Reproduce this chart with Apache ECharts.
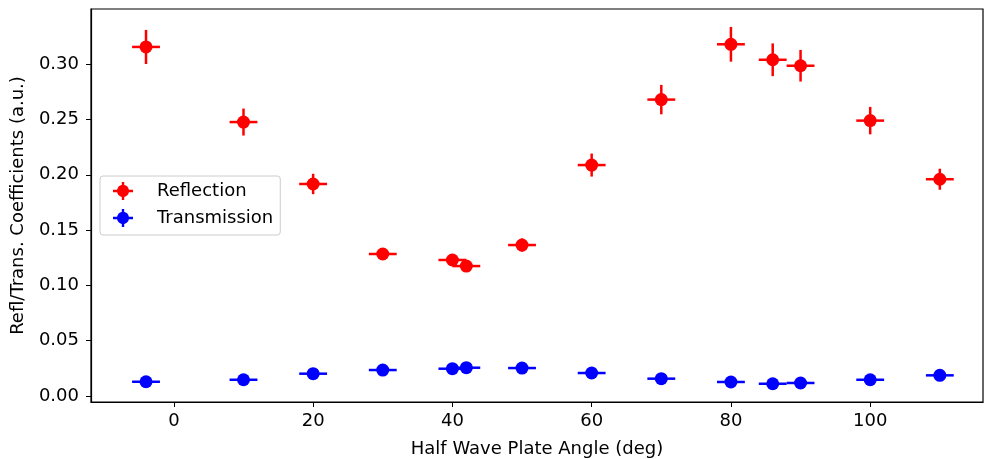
<!DOCTYPE html>
<html>
<head>
    <meta charset="utf-8"/>
    <style>
        html, body {
            padding: 0;
            margin: 0;
            background: #fff;
        }

        #main {
            width: 984px;
            height: 459px;
        }
    </style>
    <script src="https://cdn.jsdelivr.net/npm/echarts@6/dist/echarts.min.js"></script>
</head>
<body>
<div id="main"></div>
<script>
    // half wave plate angle (deg), every point has +/-2 deg
    var angles = [-4, 10, 20, 30, 40, 42, 50, 60, 70, 80, 86, 90, 100, 110];
    var angleErr = 2;
    var reflection = [0.3156, 0.2477, 0.1917, 0.1284, 0.1230, 0.1175, 0.1365, 0.2088, 0.2680, 0.3180, 0.3040, 0.2986, 0.2490, 0.1960];
    var reflectionErr = [0.0154, 0.0122, 0.0092, 0.0050, 0.0050, 0.0040, 0.0060, 0.0104, 0.0133, 0.0157, 0.0148, 0.0143, 0.0124, 0.0095];
    var transmission = [0.0129, 0.0147, 0.0202, 0.0235, 0.0247, 0.0256, 0.0253, 0.0208, 0.0157, 0.0127, 0.0111, 0.0118, 0.0147, 0.0187];
    var transmissionErr = [0.0010, 0.0010, 0.0010, 0.0010, 0.0010, 0.0010, 0.0010, 0.0010, 0.0010, 0.0010, 0.0010, 0.0010, 0.0010, 0.0010];
    var xTicks = [0, 20, 40, 60, 80, 100];
    var yTicks = [0, 0.05, 0.10, 0.15, 0.20, 0.25, 0.30];

    var FONT = 'DejaVu Sans';
    // outline of a circle with error bar arms (no overlapping sub paths)
    var markerIcon = 'path://M0,7.8L4.121,7.8A6,6 0 0,1 8.8,3.121L8.8,0L11.2,0L11.2,3.121A6,6 0 0,1 15.879,7.8' +
        'L20,7.8L20,10.2L15.879,10.2A6,6 0 0,1 11.2,14.879L11.2,18L8.8,18L8.8,14.879A6,6 0 0,1 4.121,10.2L0,10.2Z';

    function buildData(ys, errs) {
        var out = [];
        for (var i = 0; i < angles.length; i++) {
            out.push([angles[i], ys[i], angleErr, errs[i]]);
        }
        return out;
    }

    function errorBarItem(color) {
        return function (params, api) {
            var x = api.value(0), y = api.value(1);
            var dx = api.value(2), dy = api.value(3);
            var c = api.coord([x, y]);
            var l = api.coord([x - dx, y]);
            var r = api.coord([x + dx, y]);
            var t = api.coord([x, y + dy]);
            var b = api.coord([x, y - dy]);
            var lineStyle = {stroke: color, lineWidth: 2.5};
            return {
                type: 'group',
                children: [
                    {type: 'line', shape: {x1: l[0], y1: l[1], x2: r[0], y2: r[1]}, style: lineStyle},
                    {type: 'line', shape: {x1: t[0], y1: t[1], x2: b[0], y2: b[1]}, style: lineStyle},
                    {type: 'circle', shape: {cx: c[0], cy: c[1], r: 6.5}, style: {fill: color}}
                ]
            };
        };
    }

    var chart = echarts.init(document.getElementById('main'));
    chart.setOption({
        animation: false,
        backgroundColor: '#fff',
        grid: {
            left: 91, right: 1, top: 9, bottom: 57,
            outerBoundsMode: 'none',
            containLabel: false,
            show: true, borderColor: '#000', borderWidth: 1.2, backgroundColor: 'transparent'
        },
        legend: {
            left: 100, top: 176,
            orient: 'vertical',
            data: ['Reflection', 'Transmission'],
            icon: markerIcon,
            itemWidth: 24, itemHeight: 18, itemGap: 9,
            padding: [6, 7, 8, 13],
            borderColor: '#cccccc', borderWidth: 1, borderRadius: 3,
            backgroundColor: 'rgba(255,255,255,0.8)',
            textStyle: {fontFamily: FONT, fontSize: 18, color: '#000', padding: [0, 0, 0, 17]}
        },
        xAxis: {
            type: 'value',
            min: -11.9, max: 116.2,
            name: 'Half Wave Plate Angle (deg)',
            nameLocation: 'middle', nameGap: 38,
            nameTextStyle: {fontFamily: FONT, fontSize: 18, color: '#000'},
            axisLine: {onZero: false, lineStyle: {color: '#000', width: 1.2}},
            axisTick: {length: 5, lineStyle: {color: '#000'}, customValues: xTicks},
            axisLabel: {fontFamily: FONT, fontSize: 18, color: '#000', margin: 10, customValues: xTicks},
            splitLine: {show: false}
        },
        yAxis: {
            type: 'value',
            min: -0.0054, max: 0.3499,
            name: 'Refl/Trans. Coefficients (a.u.)',
            nameLocation: 'middle', nameGap: 64,
            nameTextStyle: {fontFamily: FONT, fontSize: 18, color: '#000'},
            axisLine: {onZero: false, lineStyle: {color: '#000', width: 1.2}},
            axisTick: {length: 5, lineStyle: {color: '#000'}, customValues: yTicks},
            axisLabel: {
                fontFamily: FONT, fontSize: 18, color: '#000', margin: 12, customValues: yTicks,
                formatter: function (v) { return v.toFixed(2); }
            },
            splitLine: {show: false}
        },
        series: [{
            name: 'Reflection',
            type: 'custom',
            clip: true,
            itemStyle: {color: '#ff0000'},
            renderItem: errorBarItem('#ff0000'),
            encode: {x: 0, y: 1},
            data: buildData(reflection, reflectionErr)
        }, {
            name: 'Transmission',
            type: 'custom',
            clip: true,
            itemStyle: {color: '#0000ff'},
            renderItem: errorBarItem('#0000ff'),
            encode: {x: 0, y: 1},
            data: buildData(transmission, transmissionErr)
        }]
    });
</script>
</body>
</html>
